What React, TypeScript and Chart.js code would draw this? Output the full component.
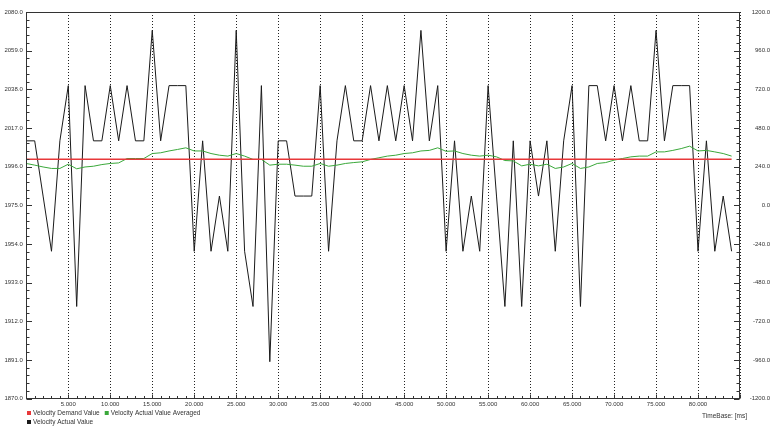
import React, { useEffect, useRef } from 'react';
import { Chart, registerables } from 'chart.js';
Chart.register(...registerables);

// time base [ms]
const timeMs = [
  0, 1, 2, 3, 4, 5, 6, 7, 8, 9, 10, 11, 12, 13, 14, 15, 16, 17, 18, 19,
  20, 21, 22, 23, 24, 25, 26, 27, 28, 29, 30, 31, 32, 33, 34, 35, 36, 37, 38, 39,
  40, 41, 42, 43, 44, 45, 46, 47, 48, 49, 50, 51, 52, 53, 54, 55, 56, 57, 58, 59,
  60, 61, 62, 63, 64, 65, 66, 67, 68, 69, 70, 71, 72, 73, 74, 75, 76, 77, 78, 79,
  80, 81, 82, 83, 84,
];

const velocityActual = [
  2010, 2010, 1980, 1950, 2010, 2040, 1920, 2040, 2010, 2010,
  2040, 2010, 2040, 2010, 2010, 2070, 2010, 2040, 2040, 2040,
  1950, 2010, 1950, 1980, 1950, 2070, 1950, 1920, 2040, 1890,
  2010, 2010, 1980, 1980, 1980, 2040, 1950, 2010, 2040, 2010,
  2010, 2040, 2010, 2040, 2010, 2040, 2010, 2070, 2010, 2040,
  1950, 2010, 1950, 1980, 1950, 2040, 1980, 1920, 2010, 1920,
  2010, 1980, 2010, 1950, 2010, 2040, 1920, 2040, 2040, 2010,
  2040, 2010, 2040, 2010, 2010, 2070, 2010, 2040, 2040, 2040,
  1950, 2010, 1950, 1980, 1950,
];

const velocityAveraged = [
  1997.7, 1996.8, 1995.8, 1995.0, 1995.0, 1997.3, 1994.8, 1995.8, 1996.2, 1997.1,
  1997.7, 1998.0, 2000.4, 2000.4, 2000.4, 2003.1, 2003.5, 2004.5, 2005.3, 2006.2,
  2004.5, 2004.5, 2003.1, 2002.2, 2001.7, 2003.1, 2001.7, 1999.9, 1999.9, 1996.8,
  1997.3, 1997.3, 1996.8, 1996.2, 1996.2, 1997.7, 1996.2, 1996.8, 1997.7, 1998.2,
  1998.6, 1999.9, 2000.8, 2001.7, 2002.2, 2003.1, 2003.5, 2004.5, 2004.8, 2006.2,
  2004.3, 2004.5, 2003.1, 2002.2, 2001.7, 2002.2, 2001.3, 1999.3, 1999.1, 1996.4,
  1997.3, 1996.4, 1997.3, 1995.0, 1995.8, 1997.7, 1995.0, 1995.8, 1997.7, 1998.2,
  1999.5, 2000.4, 2001.3, 2001.7, 2001.7, 2004.0, 2004.0, 2004.8, 2005.8, 2007.1,
  2004.5, 2004.8, 2004.0, 2003.1, 2001.7,
];

const demandTimes = [0, 84];
const velocityDemand = [2000, 2000];

const seriesLabels = ['Velocity Demand Value', 'Velocity Actual Value Averaged', 'Velocity Actual Value'];
const axisTitleX = 'TimeBase: [ms]';

// axis ranges
const xMin = 0, xMax = 85, xMajor = 5, xMinor = 1;
const yMin = 1870, yMax = 2080, yMajor = 21, yMinor = 4.2;
const y1Min = -1200, y1Max = 1200, y1Major = 240, y1Minor = 48;

const COLORS = ['#e8383a', '#3aa83a', '#1a1a1a'];
const FONT = '"Liberation Sans", Arial, sans-serif';

export default function App() {
  const ref = useRef<HTMLCanvasElement>(null);
  useEffect(() => {
    document.body.style.margin = '0';
    const canvas = ref.current!;
    const toXY = (xs: number[], ys: number[]) => xs.map((x, i) => ({ x, y: ys[i] }));

    const decor = {
      id: 'decor',
      afterDraw(chart: any) {
        const { ctx, chartArea: a, scales } = chart;
        const L = Math.round(a.left) + 0.5;
        const R = Math.round(a.right) - 0.5;
        const T = Math.round(a.top) + 0.5;
        const B = Math.round(a.bottom) - 0.5;
        ctx.save();
        ctx.strokeStyle = '#333';
        ctx.lineWidth = 1;
        ctx.setLineDash([]);
        ctx.beginPath();
        // x ticks (inward)
        for (let v = xMin; v <= xMax + 1e-9; v += xMinor) {
          const px = Math.round(scales.x.getPixelForValue(v)) + 0.5;
          const len = Math.abs(v % xMajor) < 1e-6 ? 4 : 2.5;
          ctx.moveTo(px, B);
          ctx.lineTo(px, B - len);
        }
        // left y ticks
        const nL = Math.round((yMax - yMin) / yMinor);
        for (let k = 0; k <= nL; k++) {
          const v = yMin + k * yMinor;
          const py = Math.round(scales.y.getPixelForValue(v)) + 0.5;
          const len = k % 5 === 0 ? 5.5 : 3;
          ctx.moveTo(L, py);
          ctx.lineTo(L + len, py);
        }
        // right y ticks
        const nR = Math.round((y1Max - y1Min) / y1Minor);
        for (let k = 0; k <= nR; k++) {
          const v = y1Min + k * y1Minor;
          const py = Math.round(scales.y1.getPixelForValue(v)) + 0.5;
          const len = k % 5 === 0 ? 5.5 : 3;
          ctx.moveTo(R, py);
          ctx.lineTo(R - len, py);
        }
        ctx.stroke();
        // frame
        ctx.strokeRect(L, T, R - L, B - T);

        // legend
        ctx.font = `6.5px ${FONT}`;
        ctx.textBaseline = 'middle';
        ctx.textAlign = 'left';
        const drawItem = (x: number, y: number, i: number) => {
          ctx.fillStyle = COLORS[i];
          ctx.fillRect(x, y - 2, 4, 4);
          ctx.fillStyle = '#333';
          ctx.fillText(seriesLabels[i], x + 6, y);
          return x + 6 + ctx.measureText(seriesLabels[i]).width;
        };
        const end0 = drawItem(27, 413, 0);
        drawItem(end0 + 5, 413, 1);
        drawItem(27, 422, 2);

        // x axis title
        ctx.fillStyle = '#333';
        ctx.textAlign = 'right';
        ctx.fillText(axisTitleX, 747, 416);
        ctx.restore();
      },
    };

    const tickFont = { family: FONT, size: 6 };
    const chart = new Chart(canvas, {
      type: 'line',
      data: {
        datasets: [
          { label: seriesLabels[0], data: toXY(demandTimes, velocityDemand), borderColor: COLORS[0], borderWidth: 1.5, pointRadius: 0, yAxisID: 'y' },
          { label: seriesLabels[1], data: toXY(timeMs, velocityAveraged), borderColor: COLORS[1], borderWidth: 1, pointRadius: 0, yAxisID: 'y' },
          { label: seriesLabels[2], data: toXY(timeMs, velocityActual), borderColor: COLORS[2], borderWidth: 1, pointRadius: 0, yAxisID: 'y' },
        ],
      },
      options: {
        animation: false,
        responsive: false,
        devicePixelRatio: 1,
        layout: { padding: { left: 0, right: 5, top: 12, bottom: 0 } },
        plugins: { legend: { display: false }, tooltip: { enabled: false } },
        scales: {
          x: {
            type: 'linear',
            min: xMin,
            max: xMax,
            border: { display: false, dash: [1, 2] },
            grid: { color: '#222', lineWidth: 1, drawTicks: false },
            ticks: {
              stepSize: xMajor,
              autoSkip: false,
              maxRotation: 0,
              padding: 2,
              color: '#333',
              font: tickFont,
              callback: (v: any) => (v === xMin || v === xMax ? '' : Number(v).toFixed(3)),
            },
            afterFit: (s: any) => { s.height = 28.5; },
          },
          y: {
            type: 'linear',
            position: 'left',
            min: yMin,
            max: yMax,
            border: { display: false },
            grid: { display: false, drawTicks: false },
            ticks: { stepSize: yMajor, padding: 3.5, color: '#333', font: tickFont, callback: (v: any) => Number(v).toFixed(1) },
            afterFit: (s: any) => { s.width = 26.3; },
          },
          y1: {
            type: 'linear',
            position: 'right',
            min: y1Min,
            max: y1Max,
            border: { display: false },
            grid: { display: false, drawTicks: false },
            ticks: { stepSize: y1Major, crossAlign: 'far', color: '#333', font: tickFont, callback: (v: any) => Number(v).toFixed(1) },
            afterFit: (s: any) => { s.width = 30; },
          },
        },
      },
      plugins: [decor],
    } as any);
    return () => chart.destroy();
  }, []);
  return <canvas ref={ref} width={775} height={427} style={{ display: 'block' }} />;
}
